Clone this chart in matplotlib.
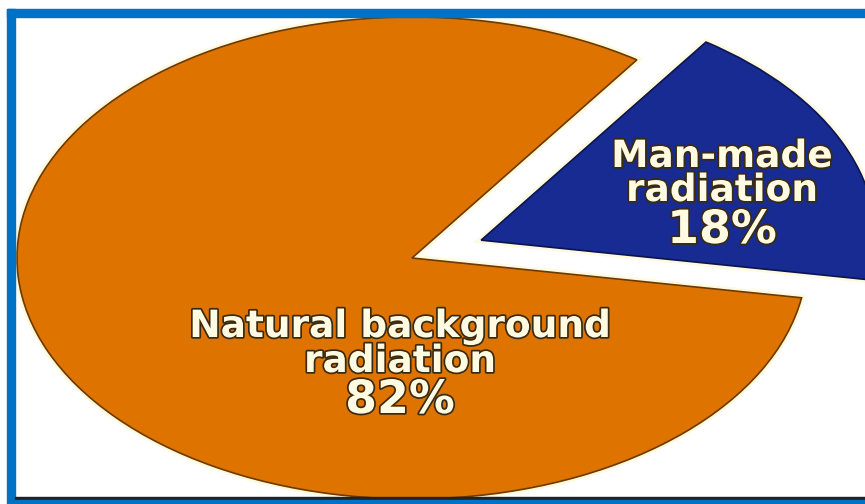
import matplotlib
matplotlib.use("Agg")
import matplotlib.pyplot as plt
import matplotlib.patheffects as pe
from matplotlib.patches import Rectangle

# pie data
labels = ["Man-made\nradiation", "Natural background\nradiation"]
shares = [18, 82]
colors = ["#172B93", "#DE7300"]
explode = [0.19, 0.0]

# text layout: (x, y baseline of each line) in axes fraction
label_x = [722 / 865, 400 / 865]
label_base = [[167, 201], [337, 372]]
pct_base = [243, 413]

W, H = 865, 504
fig = plt.figure(figsize=(W / 100, H / 100), dpi=100)
fig.patch.set_facecolor("white")
ax = fig.add_axes([0, 0, 1, 1])
ax.set_facecolor("#FFFFF8")

# the picture is a stretched pie -> ellipse, centre (412, 258) px, semi axes 395 x 241 px
wedges, _ = ax.pie(shares, colors=colors, explode=explode, startangle=-9.5,
                   counterclock=True,
                   wedgeprops=dict(edgecolor="#6b3a00", linewidth=1.2))
wedges[0].set_edgecolor("#0b1550")
for w in wedges:
    w.set_path_effects([pe.withStroke(linewidth=5, foreground="#FFF4C0", alpha=0.5)])

ax.set_aspect("auto")
ax.set_xlim(-412 / 395, (W - 412) / 395)
ax.set_ylim(-(H - 258) / 241, 258 / 241)
ax.axis("off")
ax.patch.set_visible(True)

txt_fx = [pe.withStroke(linewidth=2.5, foreground="#3a2a10")]
for i, lab in enumerate(labels):
    for line, yb in zip(lab.split("\n"), label_base[i]):
        ax.text(label_x[i], 1 - yb / H, line, transform=ax.transAxes,
                ha="center", va="baseline", fontsize=27, fontweight="bold",
                family="DejaVu Sans", color="#FFFBE2", path_effects=txt_fx)
    ax.text(label_x[i], 1 - pct_base[i] / H, f"{shares[i]}%", transform=ax.transAxes,
            ha="center", va="baseline", fontsize=33, fontweight="bold",
            family="DejaVu Sans", color="#FFFBE2", path_effects=txt_fx)

# frame around the picture (pixel boxes -> figure fraction)
def box(x0, y0, x1, y1, c):
    fig.patches.append(Rectangle((x0 / W, 1 - y1 / H), (x1 - x0) / W, (y1 - y0) / H,
                                 transform=fig.transFigure, color=c, zorder=5))

box(0, 0, W, 9, "white")
box(0, 0, 7, H, "white")
box(7, 9, W, 17, "#0072C6")
box(7, 9, 15, H, "#0072C6")
box(15, 497, W, 500, "#222222")
box(15, 500, W, H, "#0072C6")

fig.savefig("out.png", dpi=100)
